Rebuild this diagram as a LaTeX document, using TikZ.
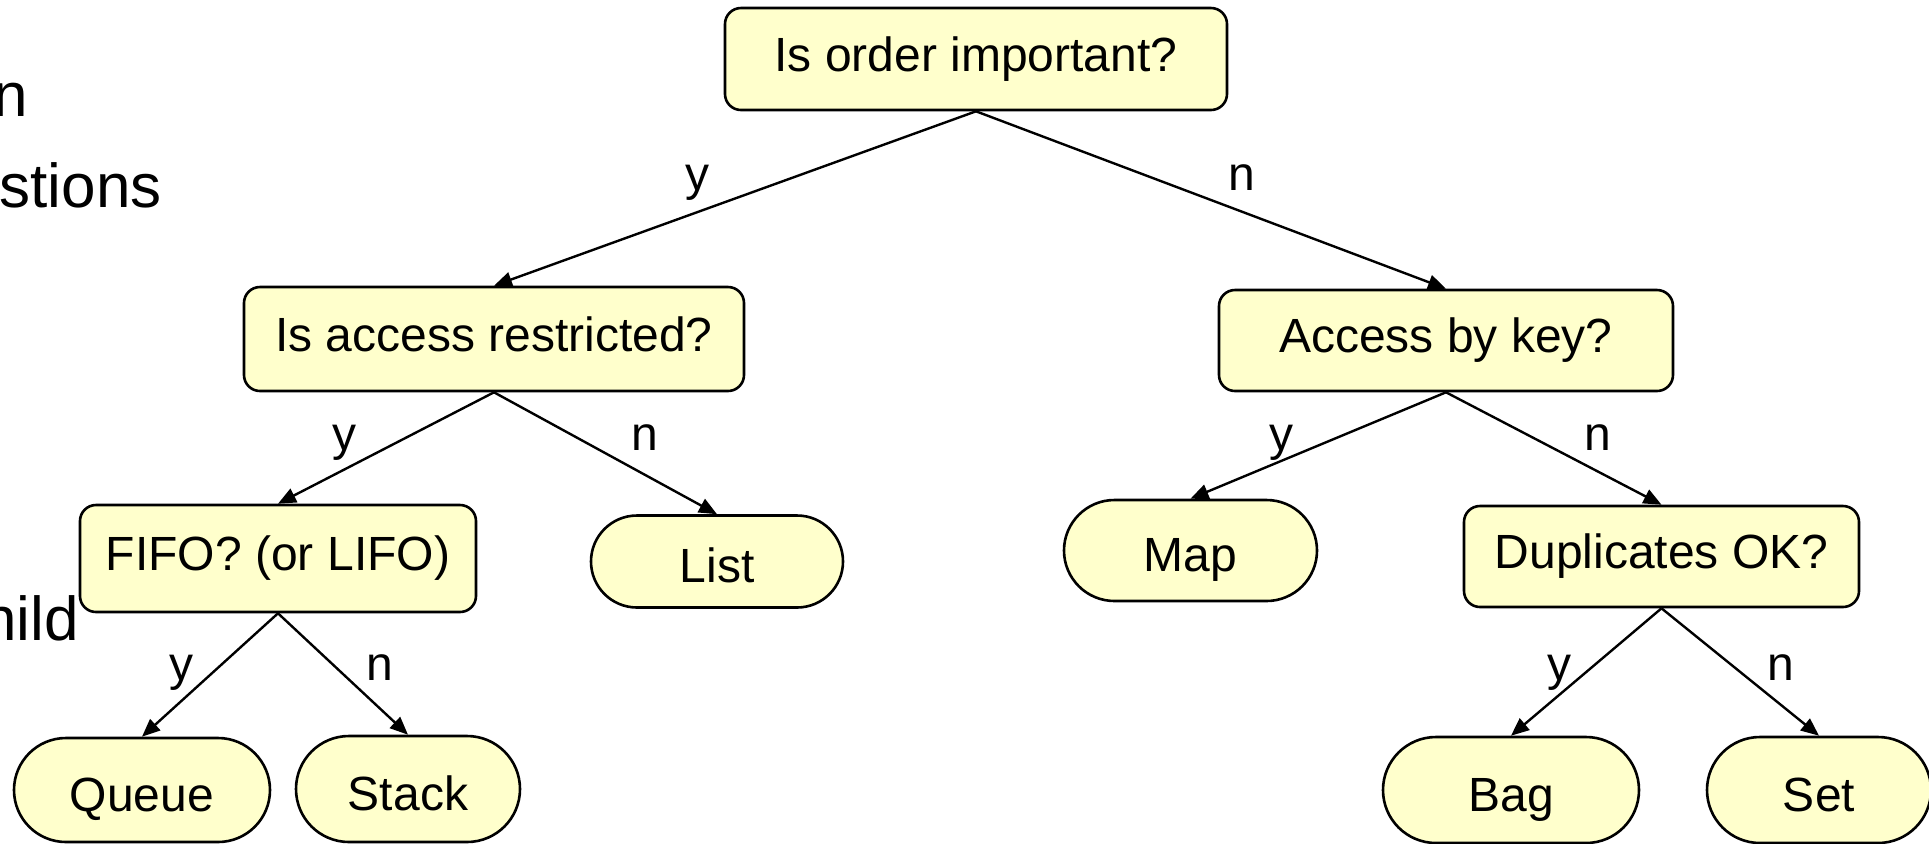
\documentclass[tikz,border=0pt]{standalone}
\usepackage{fontspec}
\setmainfont{Liberation Sans}
\usetikzlibrary{arrows.meta,shapes.misc}
\definecolor{boxfill}{HTML}{FFFFCC}
\tikzset{
  base/.style={draw=black,line width=1.3pt,fill=boxfill,inner sep=0pt,
    font=\fontsize{24pt}{28pt}\selectfont,align=center},
  qbox/.style={base,rectangle,rounded corners=8pt,text height=17pt,text depth=5pt},
  leaf/.style={base,rounded rectangle,text height=26pt,text depth=5pt},
  lab/.style={inner sep=0pt,anchor=base,font=\fontsize{24pt}{28pt}\selectfont},
  slide/.style={inner sep=0pt,anchor=base east,font=\fontsize{31pt}{36pt}\selectfont},
  arr/.style={line width=1.2pt,-{Triangle[length=9pt,width=7.5pt]}}
}
\begin{document}
\begin{tikzpicture}[x=0.5pt,y=-0.5pt]
\useasboundingbox (0,0) rectangle (1929,843);
% fragments of slide text behind the diagram
\node[slide] (t1) at (28,116) {n};
\node[slide] (t2) at (162,207) {stions};
\node[slide] (t3) at (79,640) {hild};
% question boxes
\node[qbox,minimum width=251pt,minimum height=51pt] (top) at (976,59) {Is order important?};
\node[qbox,minimum width=250pt,minimum height=52pt] (acc) at (494,339) {Is access restricted?};
\node[qbox,minimum width=227pt,minimum height=50.5pt] (key) at (1446,340.5) {Access by key?};
\node[qbox,minimum width=198pt,minimum height=53.5pt] (fifo) at (278,558.5) {FIFO? (or LIFO)};
\node[qbox,minimum width=197.5pt,minimum height=50.5pt] (dup) at (1661.5,556.5) {Duplicates OK?};
% leaves
\node[leaf,minimum width=126pt,minimum height=46pt] (list) at (717,561.5) {List};
\node[leaf,minimum width=126.5pt,minimum height=50.5pt] (map) at (1190.5,550.5) {Map};
\node[leaf,minimum width=128pt,minimum height=52pt] (queue) at (142,790) {Queue};
\node[leaf,minimum width=112pt,minimum height=53pt] (stack) at (408,789) {Stack};
\node[leaf,minimum width=128pt,minimum height=53pt] (bag) at (1511,790) {Bag};
\node[leaf,minimum width=112pt,minimum height=53pt] (set) at (1819,790) {Set};
% connectors
\draw[arr] (top.south) -- (acc.north);
\draw[arr] (top.south) -- (key.north);
\draw[arr] (acc.south) -- (fifo.north);
\draw[arr] (acc.south) -- (list.north);
\draw[arr] (key.south) -- (map.north);
\draw[arr] (key.south) -- (dup.north);
\draw[arr] (fifo.south) -- (queue.north);
\draw[arr] (fifo.south) -- (stack.north);
\draw[arr] (dup.south) -- (bag.north);
\draw[arr] (dup.south) -- (set.north);
% labels
\node[lab] (ly1) at (697,190) {y};
\node[lab] (ln1) at (1242,190) {n};
\node[lab] (ly2) at (344,450) {y};
\node[lab] (ln2) at (645,450) {n};
\node[lab] (ly3) at (1281,450) {y};
\node[lab] (ln3) at (1598,450) {n};
\node[lab] (ly4) at (181,680) {y};
\node[lab] (ln4) at (380,680) {n};
\node[lab] (ly5) at (1559,680) {y};
\node[lab] (ln5) at (1781,680) {n};
\end{tikzpicture}
\end{document}
